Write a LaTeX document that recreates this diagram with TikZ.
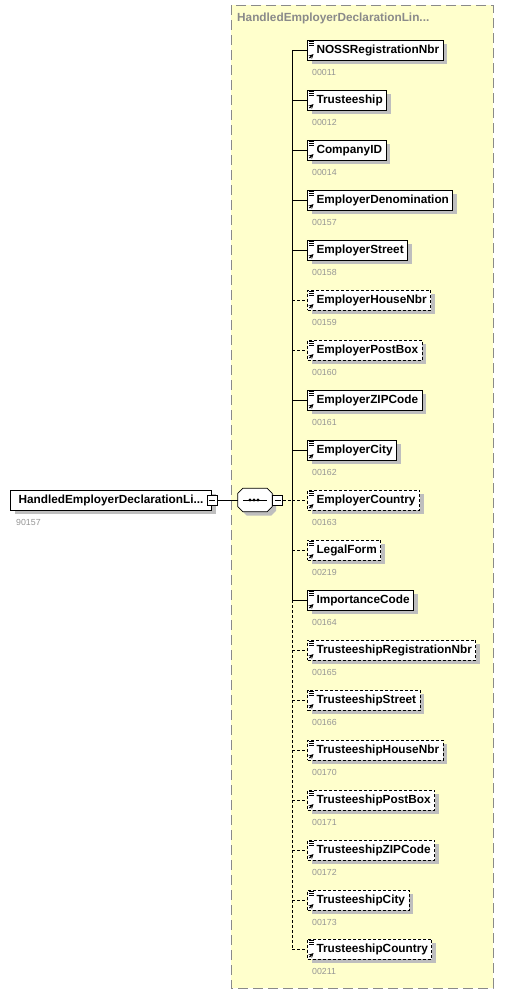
\documentclass[tikz,border=0pt]{standalone}
\usepackage{fontspec}
\setmainfont{Liberation Sans}
\usepackage{tikz}
\usetikzlibrary{shapes,arrows,shadows,positioning}

\definecolor{seqyellow}{HTML}{FFFFCC}
\definecolor{idgray}{HTML}{959595}
\definecolor{framegray}{HTML}{8A8A8A}
\definecolor{shadowgray}{HTML}{BEBEBE}

% little markers in the top left and bottom left corner of an element box
\newcommand{\elemicon}[1]{%
  \draw[line width=0.8pt] ([xshift=2pt,yshift=-2pt]#1.north west) -- ++(5,0);
  \draw[line width=0.8pt] ([xshift=2pt,yshift=-4pt]#1.north west) -- ++(5,0);
  \draw[line width=0.8pt] ([xshift=2pt,yshift=-6pt]#1.north west) -- ++(5,0);
  \draw[line width=1.1pt, ->, >=stealth] ([xshift=2.5pt,yshift=2.5pt]#1.south west) -- ++(4,-4);
}

\begin{document}
\begin{tikzpicture}[x=1pt, y=-1pt,
    elem/.style={rectangle, draw, fill=white, line width=1pt, anchor=west,
      minimum height=20pt, inner xsep=4pt, inner ysep=0pt,
      text height=9pt, text depth=2.5pt,
      font=\bfseries\fontsize{11.8}{12}\selectfont,
      drop shadow={shadow xshift=4pt, shadow yshift=-4pt, fill=shadowgray, opacity=1}},
    optelem/.style={elem, dash pattern=on 3pt off 2pt},
    idlabel/.style={anchor=west, inner sep=0pt, text=idgray, font=\fontsize{8.8}{9}\selectfont},
    minusbox/.style={rectangle, draw, fill=white, line width=0.8pt, minimum size=10pt, inner sep=0pt,
      path picture={\draw ([xshift=-3pt]path picture bounding box.center) -- ([xshift=3pt]path picture bounding box.center);}},
    seqbox/.style={rectangle, minimum width=34pt, minimum height=23pt, inner sep=0pt},
    link/.style={line width=1pt},
    optlink/.style={line width=1pt, dash pattern=on 3pt off 2pt},
]
    \useasboundingbox (0,0) rectangle (508,994);

    % sequence frame
    \draw[fill=seqyellow, draw=framegray, line width=1pt, dash pattern=on 10pt off 5pt] (231,5) rectangle (493,988);
    \node[anchor=west, inner sep=0pt, text=framegray, font=\bfseries\fontsize{11.8}{12}\selectfont] (seqtitle) at (237,18) {HandledEmployerDeclarationLin...};

    \coordinate (vl) at (292,0);

    % root element
    \node[elem, minimum width=201pt, anchor=west] (root) at (10,500) {HandledEmployerDeclarationLi...};
    \node[idlabel] (rootid) at (16,522) {90157};
    \node[minusbox] (rootminus) at (212,500) {};

    % sequence compositor
    \node[seqbox] (seq) at (255,500) {};
    \filldraw[fill=white, line width=0.8pt, drop shadow={shadow xshift=4pt, shadow yshift=-4pt, fill=shadowgray, opacity=1}]
      ([xshift=5pt]seq.north west) -- ([xshift=-5pt]seq.north east) -- ([yshift=-5pt]seq.north east)
      -- ([yshift=5pt]seq.south east) -- ([xshift=-5pt]seq.south east) -- ([xshift=5pt]seq.south west)
      -- ([yshift=5pt]seq.south west) -- ([yshift=-5pt]seq.north west) -- cycle;
    \draw[line width=1pt] ([xshift=-12pt]seq.center) -- ([xshift=12pt]seq.center);
    \fill ([xshift=-5pt]seq.center) circle (1.7pt);
    \fill ([xshift=-1pt]seq.center) circle (1.7pt);
    \fill ([xshift=3pt]seq.center) circle (1.7pt);
    \node[minusbox] (seqminus) at (277.5,500) {};

    \draw[link] (rootminus.east) -- (seq.west);
    \draw[optlink] (seqminus.east) -- (seqminus.east -| vl);

    % children
    \node[elem] (c1) at (307,50) {\hspace*{5pt}NOSSRegistrationNbr};
    \node[elem] (c2) at (307,100) {\hspace*{5pt}Trusteeship};
    \node[elem] (c3) at (307,150) {\hspace*{5pt}CompanyID};
    \node[elem] (c4) at (307,200) {\hspace*{5pt}EmployerDenomination};
    \node[elem] (c5) at (307,250) {\hspace*{5pt}EmployerStreet};
    \node[optelem] (c6) at (307,300) {\hspace*{5pt}EmployerHouseNbr};
    \node[optelem] (c7) at (307,350) {\hspace*{5pt}EmployerPostBox};
    \node[elem] (c8) at (307,400) {\hspace*{5pt}EmployerZIPCode};
    \node[elem] (c9) at (307,450) {\hspace*{5pt}EmployerCity};
    \node[optelem] (c10) at (307,500) {\hspace*{5pt}EmployerCountry};
    \node[optelem] (c11) at (307,550) {\hspace*{5pt}LegalForm};
    \node[elem] (c12) at (307,600) {\hspace*{5pt}ImportanceCode};
    \node[optelem] (c13) at (307,650) {\hspace*{5pt}TrusteeshipRegistrationNbr};
    \node[optelem] (c14) at (307,700) {\hspace*{5pt}TrusteeshipStreet};
    \node[optelem] (c15) at (307,750) {\hspace*{5pt}TrusteeshipHouseNbr};
    \node[optelem] (c16) at (307,800) {\hspace*{5pt}TrusteeshipPostBox};
    \node[optelem] (c17) at (307,850) {\hspace*{5pt}TrusteeshipZIPCode};
    \node[optelem] (c18) at (307,900) {\hspace*{5pt}TrusteeshipCity};
    \node[optelem] (c19) at (307,949) {\hspace*{5pt}TrusteeshipCountry};

    \node[idlabel] (c1id) at ([xshift=5pt,yshift=-12pt]c1.south west) {00011};
    \node[idlabel] (c2id) at ([xshift=5pt,yshift=-12pt]c2.south west) {00012};
    \node[idlabel] (c3id) at ([xshift=5pt,yshift=-12pt]c3.south west) {00014};
    \node[idlabel] (c4id) at ([xshift=5pt,yshift=-12pt]c4.south west) {00157};
    \node[idlabel] (c5id) at ([xshift=5pt,yshift=-12pt]c5.south west) {00158};
    \node[idlabel] (c6id) at ([xshift=5pt,yshift=-12pt]c6.south west) {00159};
    \node[idlabel] (c7id) at ([xshift=5pt,yshift=-12pt]c7.south west) {00160};
    \node[idlabel] (c8id) at ([xshift=5pt,yshift=-12pt]c8.south west) {00161};
    \node[idlabel] (c9id) at ([xshift=5pt,yshift=-12pt]c9.south west) {00162};
    \node[idlabel] (c10id) at ([xshift=5pt,yshift=-12pt]c10.south west) {00163};
    \node[idlabel] (c11id) at ([xshift=5pt,yshift=-12pt]c11.south west) {00219};
    \node[idlabel] (c12id) at ([xshift=5pt,yshift=-12pt]c12.south west) {00164};
    \node[idlabel] (c13id) at ([xshift=5pt,yshift=-12pt]c13.south west) {00165};
    \node[idlabel] (c14id) at ([xshift=5pt,yshift=-12pt]c14.south west) {00166};
    \node[idlabel] (c15id) at ([xshift=5pt,yshift=-12pt]c15.south west) {00170};
    \node[idlabel] (c16id) at ([xshift=5pt,yshift=-12pt]c16.south west) {00171};
    \node[idlabel] (c17id) at ([xshift=5pt,yshift=-12pt]c17.south west) {00172};
    \node[idlabel] (c18id) at ([xshift=5pt,yshift=-12pt]c18.south west) {00173};
    \node[idlabel] (c19id) at ([xshift=5pt,yshift=-12pt]c19.south west) {00211};

    \elemicon{c1} \elemicon{c2} \elemicon{c3} \elemicon{c4} \elemicon{c5}
    \elemicon{c6} \elemicon{c7} \elemicon{c8} \elemicon{c9} \elemicon{c10}
    \elemicon{c11} \elemicon{c12} \elemicon{c13} \elemicon{c14} \elemicon{c15}
    \elemicon{c16} \elemicon{c17} \elemicon{c18} \elemicon{c19}

    % connectors
    \draw[link] (c1.west -| vl) -- (c12.west -| vl);
    \draw[optlink] (c12.west -| vl) -- (c19.west -| vl);
    \draw[link] (c1.west -| vl) -- (c1.west);
    \draw[link] (c2.west -| vl) -- (c2.west);
    \draw[link] (c3.west -| vl) -- (c3.west);
    \draw[link] (c4.west -| vl) -- (c4.west);
    \draw[link] (c5.west -| vl) -- (c5.west);
    \draw[optlink] (c6.west -| vl) -- (c6.west);
    \draw[optlink] (c7.west -| vl) -- (c7.west);
    \draw[link] (c8.west -| vl) -- (c8.west);
    \draw[link] (c9.west -| vl) -- (c9.west);
    \draw[optlink] (c10.west -| vl) -- (c10.west);
    \draw[optlink] (c11.west -| vl) -- (c11.west);
    \draw[link] (c12.west -| vl) -- (c12.west);
    \draw[optlink] (c13.west -| vl) -- (c13.west);
    \draw[optlink] (c14.west -| vl) -- (c14.west);
    \draw[optlink] (c15.west -| vl) -- (c15.west);
    \draw[optlink] (c16.west -| vl) -- (c16.west);
    \draw[optlink] (c17.west -| vl) -- (c17.west);
    \draw[optlink] (c18.west -| vl) -- (c18.west);
    \draw[optlink] (c19.west -| vl) -- (c19.west);
\end{tikzpicture}
\end{document}
